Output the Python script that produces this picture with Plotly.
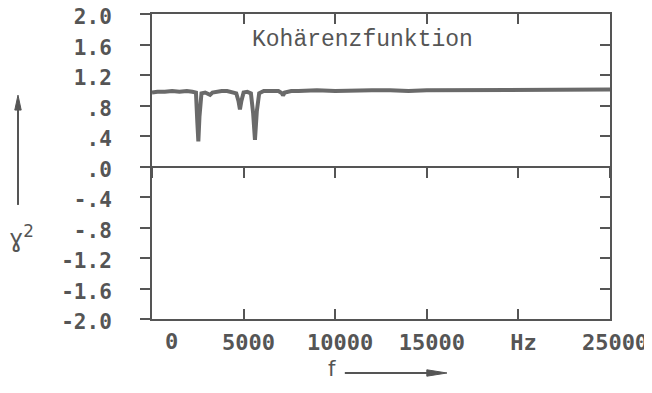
import plotly.graph_objects as go

# --- data ---
freq_hz = [0, 300, 700, 1100, 1500, 1900, 2200, 2400, 2470, 2530, 2590, 2700, 2900,
           3050, 3170, 3300, 3500, 3800, 4100, 4400, 4600, 4720, 4800, 4880, 5000,
           5200, 5400, 5520, 5620, 5720, 5850, 6100, 6500, 6900, 7100, 7150, 7250,
           7600, 8000, 9000, 10000, 11000, 12000, 13000, 14000, 15000, 16000,
           17000, 18000, 19000, 20000, 21000, 22000, 23000, 24000, 25000]
coherence = [0.97, 0.98, 0.98, 0.99, 0.98, 0.99, 0.98, 0.97, 0.60, 0.33, 0.65, 0.96, 0.97,
             0.96, 0.94, 0.97, 0.98, 0.99, 0.99, 0.98, 0.96, 0.86, 0.75, 0.86, 0.97,
             0.98, 0.96, 0.70, 0.35, 0.72, 0.96, 0.99, 0.99, 0.99, 0.96, 0.93, 0.97,
             0.99, 0.99, 1.00, 0.99, 1.00, 1.00, 1.00, 0.99, 1.00, 1.00,
             1.00, 1.01, 1.00, 1.01, 1.00, 1.01, 1.01, 1.01, 1.01]

x_tickvals = [0, 5000, 10000, 15000, 20000, 25000]
x_ticktext = ["0", "5000", "10000", "15000", "Hz", "25000"]
y_tickvals = [-2.0, -1.6, -1.2, -0.8, -0.4, 0.0, 0.4, 0.8, 1.2, 1.6, 2.0]
y_ticktext = ["-2.0", "-1.6", "-1.2", "-.8", "-.4", ".0", ".4", ".8", "1.2", "1.6", "2.0"]

INK = "#555555"
TICKFONT = dict(family="DejaVu Sans Mono", size=21, color=INK, weight="bold")
XTICKFONT = dict(family="DejaVu Sans Mono", size=22, color=INK, weight="bold")

fig = go.Figure()
fig.add_trace(go.Scatter(x=freq_hz, y=coherence, mode="lines",
                         line=dict(color="#6a6a6a", width=4), showlegend=False,
                         hoverinfo="skip"))

fig.update_layout(
    width=652, height=393,
    margin=dict(l=144, r=50, t=6, b=82, autoexpand=False),
    paper_bgcolor="white", plot_bgcolor="white",
    xaxis=dict(range=[0, 25000], tickvals=x_tickvals, ticktext=["", *x_ticktext[1:]],
               ticks="inside", ticklen=10, tickwidth=2, tickcolor=INK,
               showline=True, linewidth=2, linecolor=INK, mirror="ticks",
               showgrid=False, zeroline=False, tickfont=XTICKFONT, automargin=False,
               ticklabelshift=5, ticklabelstandoff=3, ticklabeloverflow="allow"),
    xaxis2=dict(range=[0, 25000], overlaying="x", anchor="free", position=0.5,
                side="bottom", tickvals=x_tickvals, showticklabels=False,
                ticks="outside", ticklen=10, tickwidth=2, tickcolor=INK, automargin=False,
                showline=True, linewidth=2, linecolor=INK, showgrid=False, zeroline=False),
    yaxis=dict(range=[-2.0, 2.0], tickvals=y_tickvals, ticktext=y_ticktext,
               ticks="outside", ticklen=10, tickwidth=2, tickcolor=INK,
               showline=True, linewidth=2, linecolor=INK, mirror=True,
               showgrid=False, zeroline=False, tickfont=TICKFONT, automargin=False,
               ticklabelstandoff=24, ticklabelshift=3, ticklabeloverflow="allow"),
    yaxis2=dict(range=[-2.0, 2.0], overlaying="y", side="right", anchor="x",
                tickvals=y_tickvals, showticklabels=False, automargin=False,
                ticks="inside", ticklen=10, tickwidth=2, tickcolor=INK,
                showline=False, showgrid=False, zeroline=False),
)

# dummy traces to activate overlay axes
fig.add_trace(go.Scatter(x=[None], y=[None], xaxis="x2", yaxis="y", showlegend=False))
fig.add_trace(go.Scatter(x=[None], y=[None], xaxis="x", yaxis="y2", showlegend=False))

# "0" tick label, shifted right like the reference
fig.add_annotation(x=x_tickvals[0], y=0, xref="x", yref="paper", text=x_ticktext[0],
                   showarrow=False, font=XTICKFONT, xanchor="center", yanchor="top",
                   xshift=19, yshift=-8)

# panel title
fig.add_annotation(x=0.459, y=0.915, xref="paper", yref="paper", text="Kohärenzfunktion",
                   showarrow=False, font=dict(family="Liberation Mono", size=23, color=INK),
                   xanchor="center", yanchor="middle")

# y-axis title: arrow + gamma^2
fig.add_shape(type="line", xref="paper", yref="paper", x0=-0.2926, x1=-0.2926,
              y0=0.374, y1=0.70, line=dict(color=INK, width=2))
fig.add_shape(type="path", xref="paper", yref="paper",
              path="M -0.2926 0.734 L -0.2996 0.685 L -0.2856 0.685 Z",
              fillcolor=INK, line=dict(color=INK, width=1))
fig.add_annotation(x=-0.285, y=0.27, xref="paper", yref="paper", text="ɣ<sup>2</sup>",
                   showarrow=False, font=dict(family="DejaVu Sans", size=24, color=INK),
                   xanchor="center", yanchor="middle")

# x-axis title: f + arrow
fig.add_annotation(x=0.393, y=-0.165, xref="paper", yref="paper", text="f",
                   showarrow=False, font=dict(family="DejaVu Sans", size=21, color=INK),
                   xanchor="center", yanchor="middle")
fig.add_shape(type="line", xref="paper", yref="paper", x0=0.421, x1=0.615,
              y0=-0.177, y1=-0.177, line=dict(color=INK, width=2))
fig.add_shape(type="path", xref="paper", yref="paper",
              path="M 0.644 -0.177 L 0.600 -0.1875 L 0.600 -0.1665 Z",
              fillcolor=INK, line=dict(color=INK, width=1))

fig.write_html("out.html")
